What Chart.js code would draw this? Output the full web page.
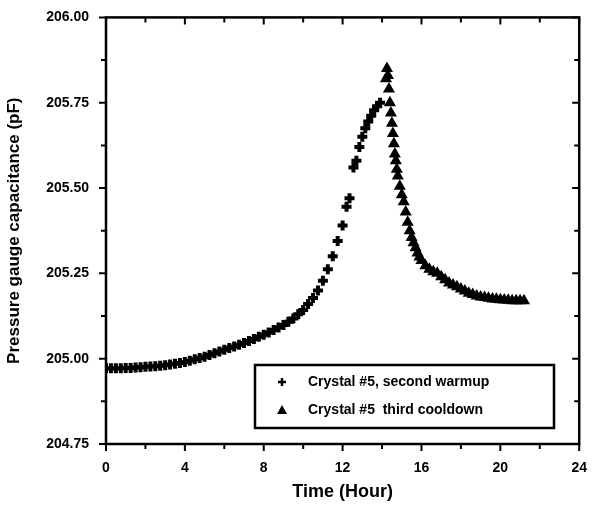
<!DOCTYPE html>
<html>
<head>
<meta charset="utf-8">
<script src="https://cdn.jsdelivr.net/npm/chart.js@4.4.0/dist/chart.umd.min.js"></script>
<style>
    html, body { margin: 0; padding: 0; background: #fff; }
    #wrap { width: 595px; height: 507px; }
</style>
</head>
<body>
<div id="wrap"><canvas id="graphCap" width="595" height="507"></canvas></div>
<script>
// warmup (plus markers)
const warmTime = [0, 0.25, 0.5, 0.75, 1, 1.25, 1.5, 1.75, 2, 2.25, 2.5, 2.75, 3, 3.25, 3.5, 3.75, 4,
    4.25, 4.5, 4.75, 5, 5.25, 5.5, 5.75, 6, 6.25, 6.5, 6.75, 7, 7.25, 7.5, 7.75, 8, 8.25, 8.5, 8.75,
    9, 9.25, 9.5, 9.75, 10, 10.25, 10.5, 10.75, 11, 11.25, 11.5, 11.75, 12, 12.2, 12.35, 12.55, 12.7,
    12.85, 13, 13.15, 13.3, 13.45, 13.6, 13.75, 13.9];
const warmCap = [204.972, 204.972, 204.972, 204.972, 204.973, 204.973, 204.974, 204.975, 204.976, 204.977,
    204.978, 204.979, 204.981, 204.983, 204.985, 204.987, 204.990, 204.994, 204.998, 205.002, 205.006,
    205.011, 205.016, 205.021, 205.026, 205.031, 205.036, 205.041, 205.046, 205.052, 205.058, 205.064,
    205.070, 205.077, 205.084, 205.091, 205.099, 205.108, 205.118, 205.130, 205.143, 205.160, 205.178,
    205.200, 205.228, 205.262, 205.300, 205.345, 205.390, 205.445, 205.470, 205.560, 205.580, 205.620,
    205.650, 205.675, 205.695, 205.712, 205.728, 205.740, 205.750];

// cooldown (triangles)
const coolTime = [14.2, 14.25, 14.3, 14.35, 14.4, 14.45, 14.5, 14.55, 14.6, 14.65, 14.7, 14.75, 14.8,
    14.9, 15.0, 15.1, 15.2, 15.3, 15.4, 15.5, 15.6, 15.7, 15.8, 15.9, 16.0, 16.2, 16.4,
    16.6, 16.8, 17.0, 17.2, 17.4, 17.6, 17.8, 18.0, 18.2, 18.4, 18.6, 18.8, 19.0, 19.2, 19.4, 19.6,
    19.8, 20.0, 20.2, 20.4, 20.6, 20.8, 21.0, 21.2];
const coolCap = [205.82, 205.85, 205.83, 205.79, 205.75, 205.72, 205.69, 205.66, 205.63, 205.60, 205.58,
    205.555, 205.535, 205.505, 205.48, 205.46, 205.43, 205.40, 205.375, 205.355, 205.34, 205.325, 205.31,
    205.298, 205.288, 205.272, 205.262, 205.255, 205.250, 205.240, 205.231, 205.222, 205.216, 205.211,
    205.204, 205.198, 205.192, 205.188, 205.184, 205.181, 205.179, 205.177, 205.175,
    205.174, 205.173, 205.172, 205.171, 205.170, 205.170, 205.170, 205.170];

const xTicks = [0, 4, 8, 12, 16, 20, 24];
const yTicks = [204.75, 205.00, 205.25, 205.50, 205.75, 206.00];

const FONT = '"Liberation Sans", Arial, sans-serif';

function pairs(xs, ys) {
    return xs.map((x, i) => ({x: x, y: ys[i]}));
}

// frame with outward ticks on left/bottom and inward ticks on top/right
const framePlugin = {
    id: 'frame',
    afterDraw(chart) {
        const ctx = chart.ctx;
        const a = chart.chartArea;
        const sx = chart.scales.x, sy = chart.scales.y;
        ctx.save();
        ctx.strokeStyle = '#000';
        ctx.lineWidth = 2.5;
        ctx.strokeRect(a.left, a.top, a.right - a.left, a.bottom - a.top);
        ctx.lineWidth = 2;
        for (let t = 0; t <= 24; t += 2) {
            const px = sx.getPixelForValue(t);
            const len = (t % 4 === 0) ? 7 : 5;
            ctx.beginPath();
            ctx.moveTo(px, a.bottom);
            ctx.lineTo(px, a.bottom + len);
            ctx.moveTo(px, a.top);
            ctx.lineTo(px, a.top + len);
            ctx.stroke();
        }
        for (let k = 0; k <= 10; k++) {
            const v = 204.75 + k * 0.125;
            const py = sy.getPixelForValue(v);
            const len = (k % 2 === 0) ? 7 : 5;
            ctx.beginPath();
            ctx.moveTo(a.left, py);
            ctx.lineTo(a.left - len, py);
            ctx.moveTo(a.right, py);
            ctx.lineTo(a.right - len, py);
            ctx.stroke();
        }
        ctx.restore();
    }
};

// legend box drawn inside plot
const legendBox = {
    id: 'legendBox',
    afterDraw(chart) {
        const ctx = chart.ctx;
        ctx.save();
        ctx.strokeStyle = '#000';
        ctx.lineWidth = 2.5;
        ctx.strokeRect(255, 365, 299, 63);
        ctx.fillStyle = '#000';
        ctx.font = 'bold 14px ' + FONT;
        ctx.textBaseline = 'middle';
        const rows = [382, 410];
        chart.data.datasets.forEach((ds, i) => {
            const y = rows[i];
            ctx.lineWidth = 2.5;
            if (ds.pointStyle === 'cross') {
                ctx.beginPath();
                ctx.moveTo(278, y); ctx.lineTo(286, y);
                ctx.moveTo(282, y - 4); ctx.lineTo(282, y + 4);
                ctx.stroke();
            } else {
                ctx.beginPath();
                ctx.moveTo(282, y - 5); ctx.lineTo(287, y + 4); ctx.lineTo(277, y + 4);
                ctx.closePath();
                ctx.fill();
            }
            ctx.fillText(ds.label, 308, y);
        });
        ctx.restore();
    }
};

new Chart(document.querySelector('#graphCap'), {
    type: 'scatter',
    data: {
        datasets: [
            {
                label: 'Crystal #5, second warmup',
                data: pairs(warmTime, warmCap),
                pointStyle: 'cross',
                pointRadius: 5,
                borderWidth: 4,
                borderColor: '#000',
                backgroundColor: '#000',
            },
            {
                label: 'Crystal #5  third cooldown',
                data: pairs(coolTime, coolCap),
                pointStyle: 'triangle',
                pointRadius: 5,
                borderWidth: 2,
                borderColor: '#000',
                backgroundColor: '#000',
            },
        ]
    },
    options: {
        responsive: false,
        animation: false,
        layout: {padding: {top: 15, right: 11, left: 0, bottom: 0}},
        plugins: {
            legend: {display: false},
            tooltip: {enabled: false}
        },
        scales: {
            x: {
                type: 'linear',
                min: 0,
                max: 24,
                afterBuildTicks: (s) => { s.ticks = xTicks.map(v => ({value: v})); },
                afterFit: (s) => { s.height = 63; },
                grid: {display: false},
                border: {display: false},
                ticks: {
                    color: '#000',
                    padding: 8,
                    font: {family: FONT, size: 14, weight: 'bold'},
                    callback: (v) => v
                },
                title: {
                    display: true,
                    text: 'Time (Hour)',
                    color: '#000',
                    padding: {top: 6},
                    font: {family: FONT, size: 18, weight: 'bold'}
                }
            },
            y: {
                min: 204.75,
                max: 206.00,
                afterBuildTicks: (s) => { s.ticks = yTicks.map(v => ({value: v})); },
                afterFit: (s) => { s.width = 106; },
                grid: {display: false},
                border: {display: false},
                ticks: {
                    color: '#000',
                    padding: 9,
                    font: {family: FONT, size: 14, weight: 'bold'},
                    callback: (v) => v.toFixed(2)
                },
                title: {
                    display: true,
                    text: 'Pressure gauge capacitance (pF)',
                    color: '#000',
                    padding: {bottom: 4},
                    font: {family: FONT, size: 17, weight: 'bold'}
                }
            }
        }
    },
    plugins: [framePlugin, legendBox]
});
</script>
</body>
</html>
